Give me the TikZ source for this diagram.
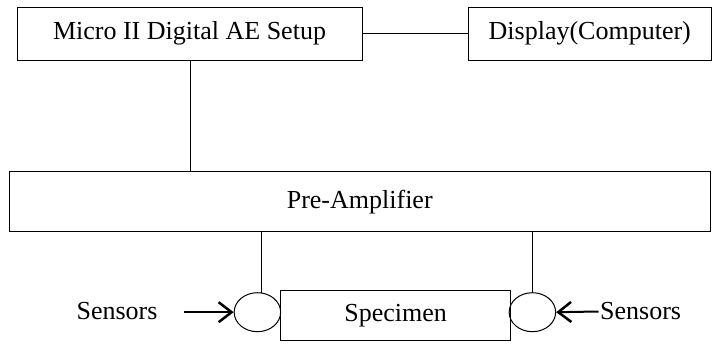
\documentclass[tikz,border=0pt]{standalone}
\usepackage{fontspec}
\setmainfont{Liberation Serif}
\usetikzlibrary{arrows.meta,shapes.geometric}
\begin{document}
\begin{tikzpicture}[x=1pt,y=-1pt,
  box/.style={draw, line width=1pt, inner sep=0pt, font=\fontsize{26}{30}\selectfont},
  sensor/.style={draw, ellipse, line width=1pt, inner sep=0pt, minimum width=46.5pt, minimum height=39pt},
  lbl/.style={inner sep=0pt, font=\fontsize{26}{30}\selectfont},
  wire/.style={line width=1pt},
  arr/.style={line width=2pt, -{Straight Barb[length=13pt,width=20pt,line width=2.5pt]}}]
\useasboundingbox (0,0) rectangle (712,343);
\node[box, minimum width=345pt, minimum height=52.7pt] (micro) at (189.5,33.65) {Micro II Digital AE Setup};
\node[box, minimum width=242.5pt, minimum height=52.7pt] (disp) at (589.75,33.65) {Display(Computer)};
\node[box, minimum width=701.5pt, minimum height=60pt] (pre) at (359.75,201.7) {Pre-Amplifier};
\node[sensor] (lc) at (257.4,312.2) {};
\node[sensor] (rc) at (532.4,312.2) {};
\node[box, minimum width=230pt, minimum height=50pt] (spec) at (395.7,315.7) {Specimen};
\node[lbl] (sl) at (117,311.5) {Sensors};
\node[lbl, anchor=west] (sr) at (600,311.5) {Sensors};
\coordinate (la) at (184,312.2);
\draw[wire] (micro) -- (disp);
\draw[wire] ([xshift=1.2pt]micro.south) -- ([xshift=1.2pt]micro.south |- pre.north);
\draw[wire] (lc.77 |- pre.south) -- (lc.77);
\draw[wire] (rc.north |- pre.south) -- (rc.north);
\draw[arr] (la) -- (lc.west);
\draw[arr] ([xshift=-1.5pt]sr.west) -- (rc.east);
\end{tikzpicture}
\end{document}
